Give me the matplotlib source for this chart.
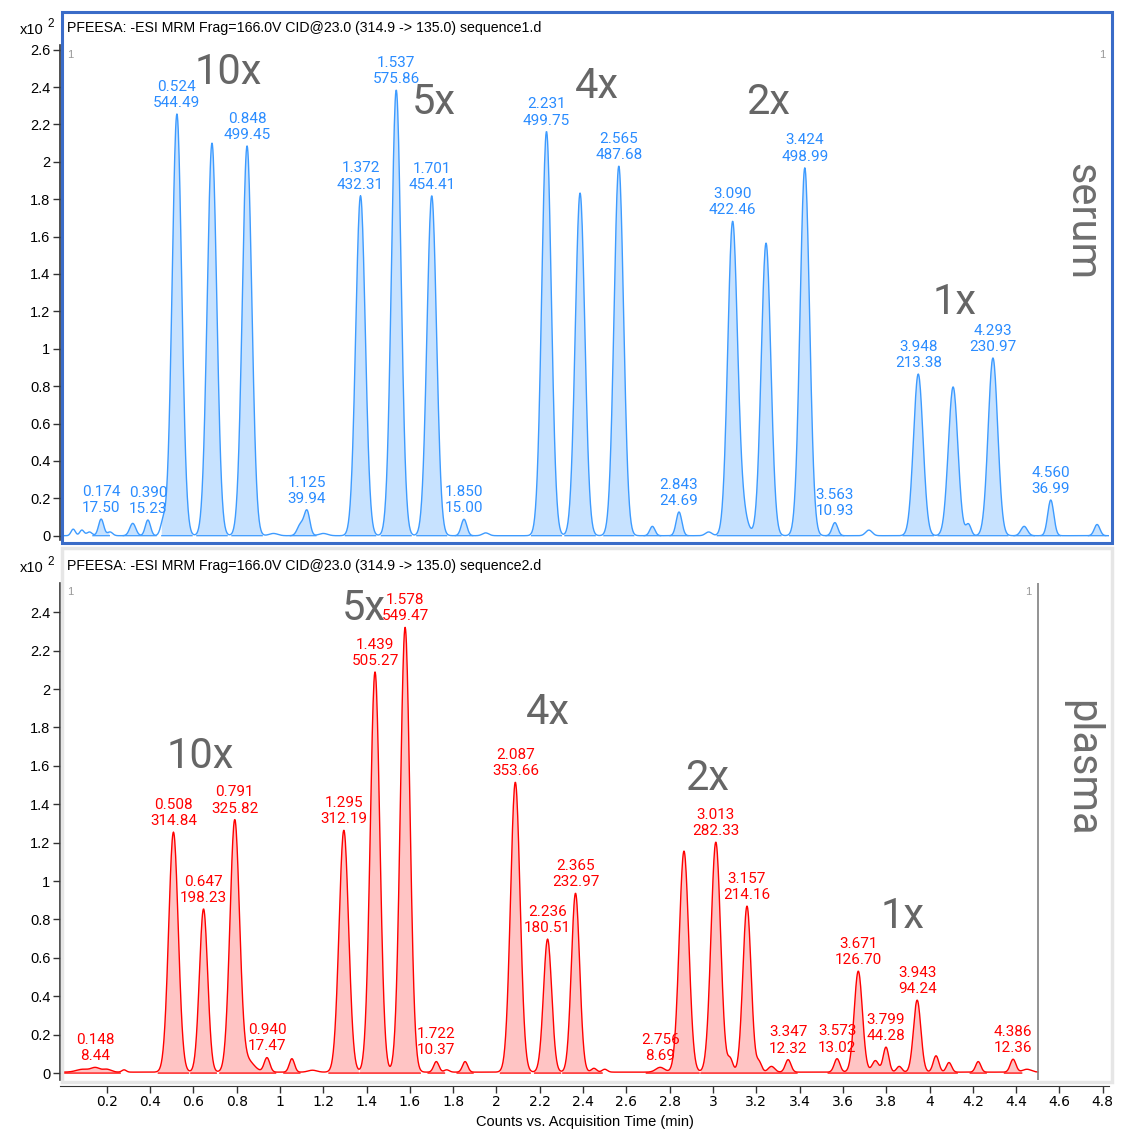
import numpy as np
import matplotlib
matplotlib.use("Agg")
import matplotlib.pyplot as plt
from matplotlib.patches import Rectangle

W, H = 1123, 1129

# ---- serum (sequence1) peaks: retention time, height (x10^2), sigma, integrated?
serum_rt = [0.045, 0.085, 0.12, 0.174, 0.215, 0.32, 0.390, 0.46, 0.524, 0.686,
            0.848, 0.97, 1.095, 1.125, 1.20, 1.372, 1.537, 1.701, 1.850, 1.95,
            2.231, 2.386, 2.565, 2.72, 2.843, 2.98, 3.090, 3.13, 3.245, 3.424,
            3.563, 3.72, 3.948, 4.109, 4.18, 4.293, 4.437, 4.560, 4.774]
serum_h = [0.035, 0.03, 0.02, 0.089, 0.02, 0.066, 0.084, 0.07, 2.256, 2.10,
           2.085, 0.012, 0.06, 0.13, 0.012, 1.819, 2.385, 1.819, 0.088, 0.015,
           2.163, 1.833, 1.978, 0.05, 0.127, 0.02, 1.64, 0.15, 1.566, 1.968,
           0.07, 0.03, 0.865, 0.796, 0.06, 0.951, 0.05, 0.191, 0.06]
serum_sig = [0.010, 0.010, 0.012, 0.012, 0.012, 0.014, 0.012, 0.012, 0.022, 0.022,
             0.022, 0.02, 0.015, 0.013, 0.02, 0.022, 0.022, 0.022, 0.013, 0.015,
             0.022, 0.022, 0.022, 0.012, 0.013, 0.015, 0.022, 0.025, 0.022, 0.022,
             0.013, 0.015, 0.022, 0.022, 0.012, 0.022, 0.015, 0.014, 0.013]
serum_fill = [0, 0, 0, 1, 0, 1, 1, 0, 1, 1,
              1, 0, 1, 1, 0, 1, 1, 1, 1, 0,
              1, 1, 1, 1, 1, 0, 1, 1, 1, 1,
              1, 0, 1, 1, 1, 1, 1, 1, 1]
serum_lab_rt = [0.174, 0.390, 0.524, 0.848, 1.125, 1.372, 1.537, 1.701, 1.850,
                2.231, 2.565, 2.843, 3.090, 3.424, 3.563, 3.948, 4.293, 4.560]
serum_lab_area = ["17.50", "15.23", "544.49", "499.45", "39.94", "432.31", "575.86",
                  "454.41", "15.00", "499.75", "487.68", "24.69", "422.46", "498.99",
                  "10.93", "213.38", "230.97", "36.99"]

# ---- plasma (sequence2) peaks
plasma_rt = [0.09, 0.148, 0.20, 0.28, 0.508, 0.647, 0.791, 0.85, 0.940, 1.055,
             1.15, 1.295, 1.439, 1.578, 1.722, 1.77, 1.855, 2.087, 2.236, 2.365,
             2.45, 2.50, 2.756, 2.866, 3.013, 3.08, 3.157, 3.213, 3.27, 3.347,
             3.573, 3.671, 3.75, 3.799, 3.86, 3.943, 4.03, 4.09, 4.225, 4.386, 4.45]
plasma_h = [0.015, 0.022, 0.015, 0.012, 1.25, 0.85, 1.307, 0.06, 0.075, 0.07,
            0.01, 1.26, 2.085, 2.316, 0.055, 0.012, 0.055, 1.51, 0.693, 0.932,
            0.02, 0.015, 0.025, 1.151, 1.198, 0.065, 0.865, 0.05, 0.03, 0.065,
            0.07, 0.526, 0.06, 0.13, 0.03, 0.375, 0.085, 0.05, 0.055, 0.067, 0.015]
plasma_sig = [0.03, 0.02, 0.02, 0.01, 0.022, 0.019, 0.022, 0.03, 0.013, 0.012,
              0.02, 0.022, 0.022, 0.022, 0.012, 0.012, 0.012, 0.022, 0.019, 0.019,
              0.012, 0.012, 0.02, 0.022, 0.022, 0.012, 0.019, 0.012, 0.015, 0.013,
              0.013, 0.019, 0.015, 0.013, 0.012, 0.017, 0.013, 0.012, 0.012, 0.013, 0.02]
plasma_fill = [1, 1, 1, 0, 1, 1, 1, 1, 1, 1,
               0, 1, 1, 1, 1, 0, 1, 1, 1, 1,
               1, 0, 1, 1, 1, 1, 1, 1, 1, 1,
               1, 1, 1, 1, 1, 1, 1, 1, 1, 1, 0]
plasma_base = 0.005
plasma_lab_rt = [0.148, 0.508, 0.647, 0.791, 0.940, 1.295, 1.439, 1.578, 1.722,
                 2.087, 2.236, 2.365, 2.756, 3.013, 3.157, 3.347, 3.573, 3.671,
                 3.799, 3.943, 4.386]
plasma_lab_area = ["8.44", "314.84", "198.23", "325.82", "17.47", "312.19", "505.27",
                   "549.47", "10.37", "353.66", "180.51", "232.97", "8.69", "282.33",
                   "214.16", "12.32", "13.02", "126.70", "44.28", "94.24", "12.36"]

serum_marks = [("10x", 228, 73), ("5x", 434, 103), ("4x", 597, 86),
               ("2x", 768, 103), ("1x", 955, 302)]
plasma_marks = [("5x", 364, 608), ("10x", 200, 757), ("4x", 548, 713),
                ("2x", 707, 778), ("1x", 903, 917)]

title1 = "PFEESA: -ESI MRM Frag=166.0V CID@23.0 (314.9 -> 135.0) sequence1.d"
title2 = "PFEESA: -ESI MRM Frag=166.0V CID@23.0 (314.9 -> 135.0) sequence2.d"


def trace(t, rts, hs, sigs, base=0.0):
    y = np.full_like(t, base)
    for r, h, s in zip(rts, hs, sigs):
        y += h * np.exp(-0.5 * ((t - r) / s) ** 2)
    return y


def fill_mask(t, rts, sigs, flags):
    m = np.zeros_like(t, dtype=bool)
    for r, s, f in zip(rts, sigs, flags):
        if f:
            m |= np.abs(t - r) < 3.2 * s
    return m


def frac(x0, y0, x1, y1):
    return [x0 / W, 1 - y1 / H, (x1 - x0) / W, (y1 - y0) / H]


fig = plt.figure(figsize=(W / 100, H / 100), dpi=100)
TXT = ["Liberation Sans", "DejaVu Sans"]
LAB = ["Roboto", "DejaVu Sans"]

# panel frames
fig.patches.append(Rectangle((62 / W, 1 - 1082 / H), 1050 / W, 534 / H,
                             transform=fig.transFigure, fill=False,
                             ec="#e6e6e6", lw=2.5))
fig.patches.append(Rectangle((62 / W, 1 - 543 / H), 1050 / W, 531 / H,
                             transform=fig.transFigure, fill=False,
                             ec="#3a6cc8", lw=2.2, zorder=5))

xl = (-0.016, 4.829)
ax1 = fig.add_axes(frac(60, 45, 1109, 540))
ax2 = fig.add_axes(frac(60, 583, 1109, 1080))

panels = [
    (ax1, serum_rt, serum_h, serum_sig, serum_fill, 0.0, serum_lab_rt, serum_lab_area,
     4.83, "#3d9bff", "#c7e2ff", "#2a8cff", (-0.023, 2.625), 2.6),
    (ax2, plasma_rt, plasma_h, plasma_sig, plasma_fill, plasma_base, plasma_lab_rt,
     plasma_lab_area, 4.5, "#ff0000", "#ffc4c4", "#ff0000", (-0.036, 2.552), 2.4),
]

for ax, rts, hs, sigs, flags, base, lrt, larea, tend, lc, fc, tc, yl, ymax in panels:
    t = np.arange(0.0, tend + 1e-9, 0.002)
    y = trace(t, rts, hs, sigs, base)
    m = fill_mask(t, rts, sigs, flags)
    ax.fill_between(t, 0, y, where=m, color=fc, lw=0)
    ax.plot(t, y, color=lc, lw=1.0)
    # integration baseline
    ax.plot(np.where(m, t, np.nan), np.where(m, 0.0, np.nan), color=lc, lw=0.9)
    for r, a in zip(lrt, larea):
        py = np.interp(r, t, y)
        ax.annotate(f"{r:.3f}\n{a}", xy=(r, py), xytext=(0, 3),
                    textcoords="offset points", ha="center", va="bottom",
                    color=tc, fontsize=11, family=LAB, linespacing=1.2)
    ax.set_xlim(*xl)
    ax.set_ylim(*yl)
    yt = np.round(np.arange(0, ymax + 0.001, 0.2), 1)
    ax.set_yticks(yt)
    ax.set_yticklabels([f"{v:g}" for v in yt], family=TXT, fontsize=10.5)
    for s in ["top", "right", "bottom"]:
        ax.spines[s].set_visible(False)
    ax.spines["left"].set_color("#333333")
    ax.spines["left"].set_linewidth(1.2)
    ax.tick_params(axis="y", length=5, width=1, color="#333333", pad=2)
    ax.patch.set_alpha(0)

ax1.set_xticks([])
ax2.axvline(4.5, color="#808080", lw=1.2)
xt = np.round(np.arange(0.2, 4.81, 0.2), 1)
ax2.set_xticks(xt)
ax2.set_xticklabels([f"{v:g}" for v in xt], family=TXT, fontsize=10.5)
ax2.spines["bottom"].set_visible(True)
ax2.spines["bottom"].set_position(("outward", 4))
ax2.spines["bottom"].set_color("#333333")
ax2.spines["bottom"].set_bounds(*xl)
ax2.tick_params(axis="x", length=5, width=1, color="#333333", pad=2)
ax2.set_xlabel("Counts vs. Acquisition Time (min)", family=TXT, fontsize=10.5,
               labelpad=4)

# headers
for yy, ttl in [(28, title1), (566, title2)]:
    fig.text(67 / W, 1 - yy / H, ttl, family=TXT, fontsize=10.2, va="center", ha="left")
    fig.text(20 / W, 1 - (yy + 2) / H, "x10", family=TXT, fontsize=10.5, va="center")
    fig.text(47 / W, 1 - (yy - 4) / H, "2", family=TXT, fontsize=8.5, va="center")

for x, yy in [(70, 55), (1102, 55), (70, 592), (1028, 592)]:
    fig.text(x / W, 1 - yy / H, "1", family=TXT, fontsize=8, color="#999999",
             ha="center", va="center")

for lbl, x, yy in serum_marks + plasma_marks:
    fig.text(x / W, 1 - yy / H, lbl, family=LAB, fontsize=30,
             color="#666666", ha="center", va="center")

fig.text(1082 / W, 1 - 222 / H, "serum", family=LAB, fontsize=30,
         color="#6e6e6e", rotation=270, ha="center", va="center")
fig.text(1082 / W, 1 - 768 / H, "plasma", family=LAB, fontsize=30,
         color="#6e6e6e", rotation=270, ha="center", va="center")

fig.savefig("out.png", dpi=100)
